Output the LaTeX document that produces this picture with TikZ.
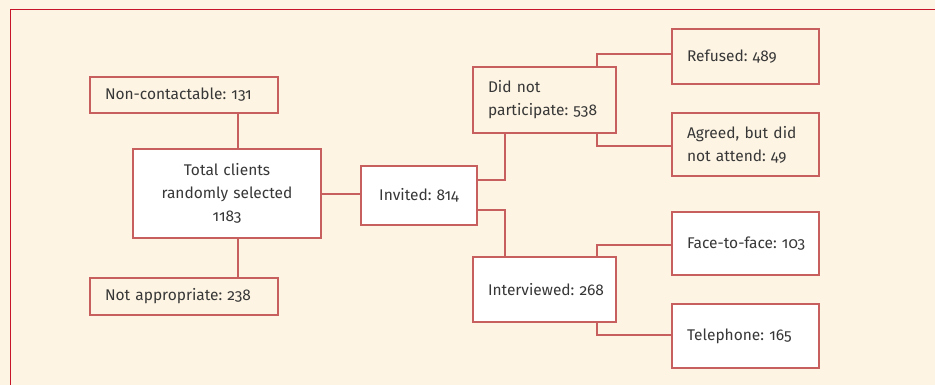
\documentclass[tikz,border=0pt]{standalone}
\usepackage{fontspec}
\setmainfont{Fira Sans}[Numbers=OldStyle]
\usetikzlibrary{positioning}

\definecolor{cream}{RGB}{253,244,227}
\definecolor{framered}{RGB}{200,20,40}
\definecolor{boxred}{RGB}{200,95,95}
\definecolor{textgrey}{RGB}{55,55,55}

\tikzset{every picture/.style={line width=0.75pt}}
\tikzset{
  flowbox/.style={draw=boxred, line width=1.4pt, font=\fontsize{15.5}{23}\selectfont, text=textgrey, inner sep=0pt},
  leftbox/.style={flowbox, align=left},
  midbox/.style={flowbox, align=center},
  link/.style={draw=boxred, line width=1.4pt}
}

\begin{document}
\begin{tikzpicture}[x=1pt,y=1pt,yscale=-1,xscale=1]
	%set diagram size to the reference
	\useasboundingbox (0,0) rectangle (935,385);
	\clip (0,0) rectangle (935,385);
	\fill[cream] (0,0) rectangle (935,385);
	%Outer frame
	\draw[framered, line width=1.3pt] (10.5,400) -- (10.5,9.5) -- (950,9.5);
	
	% left column
	\node[leftbox, fill=cream, minimum width=188pt, minimum height=36pt, text width=158pt] (noncon) at (184,95) {Non-contactable:~131};
	\node[midbox, fill=white, minimum width=188pt, minimum height=89pt, text width=170pt] (total) at (227,193.5) {Total clients\\randomly selected\\1183};
	\node[leftbox, fill=cream, minimum width=188pt, minimum height=37pt, text width=158pt] (notapp) at (184,296.5) {Not appropriate:~238};
	% middle
	\node[midbox, fill=white, minimum width=116pt, minimum height=59pt, text width=100pt] (invited) at (419,195.5) {Invited:~814};
	\node[leftbox, fill=cream, minimum width=143pt, minimum height=66pt, text width=113pt] (dnp) at (544.5,100) {Did not\\participate:~538};
	\node[leftbox, fill=white, minimum width=143pt, minimum height=65pt, text width=113pt] (interv) at (544.5,289.5) {Interviewed:~268};
	% right column
	\node[leftbox, fill=cream, minimum width=147pt, minimum height=55pt, text width=117pt] (refused) at (745.5,56.5) {Refused:~489};
	\node[leftbox, fill=cream, minimum width=147pt, minimum height=63pt, text width=117pt] (agreed) at (745.5,144.5) {Agreed, but did\\not attend:~49};
	\node[leftbox, fill=white, minimum width=147pt, minimum height=63pt, text width=117pt] (face) at (745.5,243.5) {\mbox{Face-to-face:~103}};
	\node[leftbox, fill=white, minimum width=147pt, minimum height=64pt, text width=117pt] (tel) at (745.5,336) {Telephone:~165};
	
	% Connections
	\draw[link] ([xshift=54pt]noncon.south) -- ([xshift=54pt]noncon.south |- total.north);
	\draw[link] ([xshift=54pt]notapp.north) -- ([xshift=54pt]notapp.north |- total.south);
	\draw[link] ([yshift=0.5pt]total.east) -- ([yshift=0.5pt]total.east -| invited.west);
	\draw[link] ([yshift=-15.5pt]invited.east) -| ([xshift=-39.5pt]dnp.south);
	\draw[link] ([yshift=14.5pt]invited.east) -| ([xshift=-39.5pt]interv.north);
	\draw[link] ([xshift=52.5pt]dnp.north) |- ([yshift=-2.5pt]refused.west);
	\draw[link] ([xshift=52.5pt]dnp.south) |- ([yshift=1.5pt]agreed.west);
	\draw[link] ([xshift=52.5pt]interv.north) |- ([yshift=1.5pt]face.west);
	\draw[link] ([xshift=52.5pt]interv.south) |- ([yshift=-1pt]tel.west);
	
\end{tikzpicture}
\end{document}
